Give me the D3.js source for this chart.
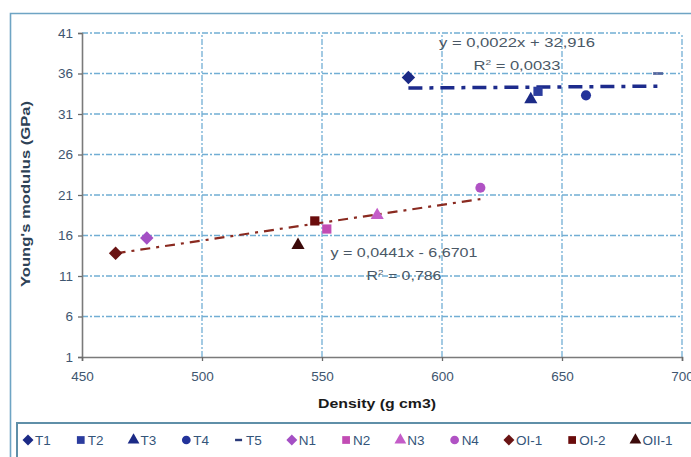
<!DOCTYPE html>
<html><head><meta charset="utf-8">
<script src="https://cdn.jsdelivr.net/npm/d3@7"></script>
<style>
html,body{margin:0;padding:0;background:#fff;}
svg{display:block;font-family:"Liberation Sans",Arial,sans-serif;}
</style></head>
<body><svg id="c" width="691" height="457"></svg>
<script>
// ---- data ----
const seriesNames = ["T1","T2","T3","T4","T5","N1","N2","N3","N4","OI-1","OI-2","OII-1"];
const density     = [586, 640, 637, 660, 690, 477, 552, 573, 616, 464, 547, 540];
const modulus     = [35.5, 33.8, 32.8, 33.3, 36.0, 15.7, 16.8, 18.5, 21.9, 13.8, 17.8, 14.8];
const xTicks = [450, 500, 550, 600, 650, 700];
const yTicks = [1, 6, 11, 16, 21, 26, 31, 36, 41];
const trendSlopes     = [0.0022, 0.0441];
const trendIntercepts = [32.916, -6.6701];
const trendFrom       = [586, 464];
const trendTo         = [690, 616];
const trendEqs = ["y = 0,0022x + 32,916", "y = 0,0441x - 6,6701"];
const trendR2  = ["0,0033", "0,786"];

// ---- styles ----
const diamond = { draw(ctx, size){ const r = Math.sqrt(size/2); ctx.moveTo(0,-r); ctx.lineTo(r,0); ctx.lineTo(0,r); ctx.lineTo(-r,0); ctx.closePath(); } };
const shapes = [diamond, d3.symbolSquare, d3.symbolTriangle, d3.symbolCircle, "dash",
                diamond, d3.symbolSquare, d3.symbolTriangle, d3.symbolCircle,
                diamond, d3.symbolSquare, d3.symbolTriangle];
const colors = ["#1b2a86","#2b3c9e","#1b2a86","#23339a","#3a4a8a",
                "#a44fc4","#c24cb4","#c45cc8","#b052c4",
                "#6a1414","#6a0c0c","#3c0a0a"];
const trendColors = ["#1d2b8c", "#8a2a20"];

const svg = d3.select("#c");
const x = d3.scaleLinear().domain([450, 700]).range([82, 682]);
const y = d3.scaleLinear().domain([1, 41]).range([357, 33]);

// outer frame
svg.append("path").attr("d", "M10.5,457 V13.5 H691")
  .attr("fill","none").attr("stroke","#6ea4c4").attr("stroke-width",1.6);

// gridlines
const grid = svg.append("g");
grid.selectAll("line.h").data(yTicks.filter(d=>d>1)).join("line")
  .attr("x1", x(450)).attr("x2", x(700)).attr("y1", d=>y(d)).attr("y2", d=>y(d))
  .attr("stroke","#72aed4").attr("stroke-width",1.3).attr("stroke-dasharray","6,2,2,2");
grid.selectAll("line.v").data(xTicks.filter(d=>d>450)).join("line")
  .attr("y1", y(1)).attr("y2", y(41)).attr("x1", d=>x(d)).attr("x2", d=>x(d))
  .attr("stroke","#72aed4").attr("stroke-width",1.3).attr("stroke-dasharray","6,2,2,2");

// axes
const axL = svg.append("g").attr("transform",`translate(${x(450)},0)`)
  .call(d3.axisLeft(y).tickValues(yTicks).tickSize(4).tickPadding(5));
const axB = svg.append("g").attr("transform",`translate(0,${y(1)})`)
  .call(d3.axisBottom(x).tickValues(xTicks).tickSize(4).tickPadding(10));
[axL, axB].forEach(a => {
  a.select(".domain").attr("stroke","#7a7a7a").attr("stroke-width",1.6);
  a.selectAll(".tick line").attr("stroke","#6a6a6a").attr("stroke-width",1.3);
  a.selectAll(".tick text").attr("fill","#3e5670").attr("font-size",13.5)
    .attr("font-family","'Liberation Sans',Arial,sans-serif");
});

// axis titles
svg.append("text").attr("transform","translate(30,194) rotate(-90)")
  .attr("text-anchor","middle").attr("font-size",12).attr("font-weight","bold")
  .attr("fill","#2e4256").attr("textLength",186).attr("lengthAdjust","spacingAndGlyphs")
  .text("Young's modulus (GPa)");
svg.append("text").attr("x",377).attr("y",408)
  .attr("text-anchor","middle").attr("font-size",12).attr("font-weight","bold")
  .attr("fill","#1a1a1a").attr("textLength",118).attr("lengthAdjust","spacingAndGlyphs")
  .text("Density (g cm3)");

// trend lines
svg.append("g").selectAll("line").data(trendSlopes).join("line")
  .attr("x1",(d,i)=>x(trendFrom[i])).attr("x2",(d,i)=>x(trendTo[i]))
  .attr("y1",(d,i)=>y(d*trendFrom[i]+trendIntercepts[i]))
  .attr("y2",(d,i)=>y(d*trendTo[i]+trendIntercepts[i]))
  .attr("stroke",(d,i)=>trendColors[i])
  .attr("stroke-width",(d,i)=>i===0?3.5:2.2)
  .attr("stroke-dasharray",(d,i)=>i===0?"14,7,4,7":"10,6,3,6");

// markers
function markerPath(i, size){
  return d3.symbol().type(shapes[i]).size(size)();
}
const pts = svg.append("g").selectAll("g").data(seriesNames).join("g")
  .attr("transform",(d,i)=>`translate(${x(density[i])},${y(modulus[i])})`);
pts.each(function(d,i){
  const g = d3.select(this);
  if (shapes[i] === "dash") {
    g.append("rect").attr("x",-5).attr("y",-1.5).attr("width",10).attr("height",3).attr("fill",colors[i]).attr("opacity",0.7);
  } else {
    const sz = shapes[i]===d3.symbolTriangle?75:(shapes[i]===d3.symbolSquare?85:(shapes[i]===diamond?90:80));
    g.append("path").attr("d", markerPath(i, sz)).attr("fill",colors[i]);
  }
});

// equations
const eqX = [517, 404], eqY = [47, 257], r2Y = [70, 280];
svg.append("g").selectAll("text").data(trendEqs).join("text")
  .attr("x",(d,i)=>eqX[i]).attr("y",(d,i)=>eqY[i]).attr("text-anchor","middle")
  .attr("font-size",13).attr("fill","#4a5866")
  .attr("textLength",(d,i)=>i===0?156:147).attr("lengthAdjust","spacingAndGlyphs")
  .text(d=>d);
const r2 = svg.append("g").selectAll("text").data(trendR2).join("text")
  .attr("x",(d,i)=>eqX[i]).attr("y",(d,i)=>r2Y[i]).attr("text-anchor","middle")
  .attr("font-size",13).attr("fill","#4a5866")
  .attr("textLength",(d,i)=>i===0?87:75).attr("lengthAdjust","spacingAndGlyphs");
r2.append("tspan").attr("font-size",13).text("R");
r2.append("tspan").attr("font-size",8).attr("dy",-5).text("2");
r2.append("tspan").attr("font-size",13).attr("dy",5).text(d=>" = " + d);

// legend
svg.append("rect").attr("x",17).attr("y",423).attr("width",690).attr("height",40)
  .attr("fill","#fff").attr("stroke","#5f8fa8").attr("stroke-width",2);
const lg = svg.append("g");
let cx = 28;
seriesNames.forEach((name,i)=>{
  const item = lg.append("g").attr("transform",`translate(${cx},440)`);
  if (shapes[i] === "dash") {
    item.append("rect").attr("x",-4).attr("y",-1.2).attr("width",7).attr("height",2.4).attr("fill","#2a3a7a");
  } else {
    item.append("path").attr("d", markerPath(i, 60)).attr("fill", colors[i]);
  }
  const t = item.append("text").attr("x",7).attr("y",5).attr("font-size",13.5)
    .attr("fill","#34557a").text(name);
  cx += 7 + t.node().getComputedTextLength() + 30;
});
</script></body></html>
